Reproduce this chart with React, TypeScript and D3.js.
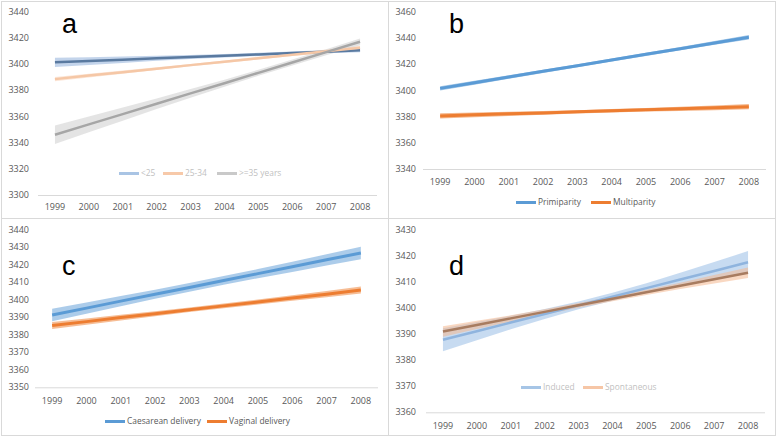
import React from 'react';
import * as d3 from 'd3';

const years = ['1999', '2000', '2001', '2002', '2003', '2004', '2005', '2006', '2007', '2008'];

// panel a: maternal age
const ageUnder25 = [3401.3, 3402.3, 3403.3, 3404.4, 3405.4, 3406.4, 3407.4, 3408.4, 3409.5, 3410.5];
const ageUnder25Half = [3.6, 3.0, 2.4, 1.9, 1.5, 1.3, 1.2, 1.2, 1.3, 1.5];
const age25to34 = [3388.5, 3391.2, 3393.8, 3396.5, 3399.2, 3401.8, 3404.5, 3407.2, 3409.8, 3412.5];
const age25to34Half = [1.6, 1.4, 1.2, 1.0, 0.9, 0.9, 1.0, 1.1, 1.3, 1.5];
const age35plus = [3346, 3353.9, 3361.8, 3369.7, 3377.6, 3385.4, 3393.3, 3401.2, 3409.1, 3417];
const age35plusHalf = [7.0, 6.0, 5.0, 4.1, 3.3, 2.7, 2.3, 2.2, 2.3, 2.6];

// panel b: parity
const primiparity = [3401.5, 3405.8, 3410.2, 3414.5, 3418.8, 3423.2, 3427.5, 3431.8, 3436.2, 3440.5];
const primiparityHalf = [1.7, 1.5, 1.3, 1.2, 1.1, 1.1, 1.2, 1.3, 1.5, 1.7];
const multiparity = [3380.5, 3381.3, 3382.1, 3382.8, 3383.6, 3384.4, 3385.2, 3385.9, 3386.7, 3387.5];
const multiparityHalf = [2.0, 1.8, 1.6, 1.4, 1.3, 1.3, 1.4, 1.6, 1.8, 2.0];

// panel c: mode of delivery
const caesarean = [3391.3, 3395.2, 3399.2, 3403.1, 3407.0, 3411.0, 3414.9, 3418.8, 3422.8, 3426.7];
const caesareanHalf = [3.6, 3.2, 2.9, 2.6, 2.5, 2.5, 2.6, 2.9, 3.2, 3.6];
const vaginal = [3385.3, 3387.5, 3389.8, 3392.0, 3394.3, 3396.5, 3398.7, 3401.0, 3403.2, 3405.5];
const vaginalHalf = [2.0, 1.8, 1.6, 1.4, 1.3, 1.3, 1.4, 1.6, 1.8, 2.0];

// panel d: onset of labour
const induced = [3387.8, 3391.1, 3394.4, 3397.7, 3401.0, 3404.3, 3407.6, 3410.9, 3414.2, 3417.5];
const inducedHalf = [4.4, 3.5, 2.6, 1.9, 1.5, 1.5, 1.9, 2.6, 3.4, 4.3];
const spontaneous = [3391, 3393.5, 3396, 3398.5, 3401, 3403.5, 3406, 3408.5, 3411, 3413.5];
const spontaneousHalf = [2.0, 1.6, 1.2, 1.0, 0.9, 0.9, 1.0, 1.2, 1.6, 2.0];

const ticksA = [3300, 3320, 3340, 3360, 3380, 3400, 3420, 3440];
const ticksB = [3340, 3360, 3380, 3400, 3420, 3440, 3460];
const ticksC = [3350, 3360, 3370, 3380, 3390, 3400, 3410, 3420, 3430, 3440];
const ticksD = [3360, 3370, 3380, 3390, 3400, 3410, 3420, 3430];

const FONT = "'Open Sans', sans-serif";

type Series = {
  name: string;
  values: number[];
  half: number[];
  line: string;
  band: string;
  bandOpacity: number;
  width: number;
  legendLine: string;
  legendX: number;
};

type Panel = {
  letter: string;
  px: number;
  py: number;
  x0: number;
  x1: number;
  yTop: number;
  yBot: number;
  ticks: number[];
  labelY: number;
  legendY: number;
  legendText: string;
  series: Series[];
};

const panels: Panel[] = [
  {
    letter: 'a', px: 1, py: 1, x0: 38, x1: 377, yTop: 11.7, yBot: 195, ticks: ticksA,
    labelY: 207, legendY: 173.5, legendText: '#bfbfbf',
    series: [
      { name: '<25', values: ageUnder25, half: ageUnder25Half, line: '#5a7aa0', band: '#a9c2e2', bandOpacity: 0.7, width: 2.5, legendLine: '#a9c4e4', legendX: 119 },
      { name: '25-34', values: age25to34, half: age25to34Half, line: '#f5c7a6', band: '#fbe0cd', bandOpacity: 0.8, width: 2.5, legendLine: '#f7c9a9', legendX: 163 },
      { name: '>=35 years', values: age35plus, half: age35plusHalf, line: '#a6a6a6', band: '#d9d9d9', bandOpacity: 0.7, width: 2.5, legendLine: '#c9c9c9', legendX: 217 },
    ],
  },
  {
    letter: 'b', px: 388, py: 1, x0: 423, x1: 766, yTop: 11.7, yBot: 169, ticks: ticksB,
    labelY: 182, legendY: 202.5, legendText: '#595959',
    series: [
      { name: 'Primiparity', values: primiparity, half: primiparityHalf, line: '#5b9bd5', band: '#9dc3e6', bandOpacity: 0.9, width: 3, legendLine: '#5b9bd5', legendX: 516 },
      { name: 'Multiparity', values: multiparity, half: multiparityHalf, line: '#ed7d31', band: '#f4b183', bandOpacity: 0.9, width: 3, legendLine: '#ed7d31', legendX: 591 },
    ],
  },
  {
    letter: 'c', px: 1, py: 218, x0: 35, x1: 378, yTop: 229.7, yBot: 387.3, ticks: ticksC,
    labelY: 401, legendY: 421.5, legendText: '#595959',
    series: [
      { name: 'Caesarean delivery', values: caesarean, half: caesareanHalf, line: '#5b9bd5', band: '#9dc3e6', bandOpacity: 0.85, width: 3, legendLine: '#5b9bd5', legendX: 105 },
      { name: 'Vaginal delivery', values: vaginal, half: vaginalHalf, line: '#ed7d31', band: '#f4b183', bandOpacity: 0.85, width: 3, legendLine: '#ed7d31', legendX: 207 },
    ],
  },
  {
    letter: 'd', px: 388, py: 218, x0: 426, x1: 765, yTop: 229.7, yBot: 412.3, ticks: ticksD,
    labelY: 426, legendY: 387.5, legendText: '#bfbfbf',
    series: [
      { name: 'Induced', values: induced, half: inducedHalf, line: '#8fb4de', band: '#b4cfec', bandOpacity: 0.75, width: 2.5, legendLine: '#a6c5e6', legendX: 521 },
      { name: 'Spontaneous', values: spontaneous, half: spontaneousHalf, line: '#a87c60', band: '#f4b88f', bandOpacity: 0.55, width: 2.5, legendLine: '#f6c6a6', legendX: 583 },
    ],
  },
];

function ChartPanel({ p }: { p: Panel }) {
  const x = d3.scaleBand<string>().domain(years).range([p.x0, p.x1]);
  const y = d3.scaleLinear()
    .domain([p.ticks[0], p.ticks[p.ticks.length - 1]])
    .range([p.yBot, p.yTop]);
  const cx = (i: number) => (x(years[i]) as number) + x.bandwidth() / 2;

  const lineGen = d3.line<number>().x((_, i) => cx(i)).y(d => y(d));

  return (
    <g>
      <rect x={p.px + 0.5} y={p.py + 0.5} width={387} height={217} fill="#fff" stroke="#d9d9d9" />
      {p.ticks.map(t => (
        <text key={t} x={p.px + 28} y={y(t)} dy="0.35em" textAnchor="end" fontSize={9} fill="#595959" fontFamily={FONT}>
          {t}
        </text>
      ))}
      <line x1={p.x0} x2={p.x1} y1={p.yBot + 0.5} y2={p.yBot + 0.5} stroke="#d9d9d9" />
      {years.map((yr, i) => (
        <text key={yr} x={cx(i)} y={p.labelY} dy="0.35em" textAnchor="middle" fontSize={9} fill="#595959" fontFamily={FONT}>
          {yr}
        </text>
      ))}
      {p.series.map(s => {
        const area = d3.area<number>()
          .x((_, i) => cx(i))
          .y0((d, i) => y(d - s.half[i]))
          .y1((d, i) => y(d + s.half[i]));
        return (
          <path key={s.name + '-band'} d={area(s.values) || ''} fill={s.band} opacity={s.bandOpacity} />
        );
      })}
      {p.series.map(s => (
        <path key={s.name + '-line'} d={lineGen(s.values) || ''} fill="none" stroke={s.line} strokeWidth={s.width} />
      ))}
      <text x={p.px + 61} y={p.py + (p.letter === 'c' || p.letter === 'd' ? 56.5 : 31.5)} fontSize={27} fill="#000" fontFamily="'Liberation Sans', Arial, sans-serif">
        {p.letter}
      </text>
      {p.series.map(s => (
        <g key={s.name + '-legend'}>
          <line x1={s.legendX} x2={s.legendX + 20} y1={p.legendY} y2={p.legendY} stroke={s.legendLine} strokeWidth={3} />
          <text x={s.legendX + 22} y={p.legendY} dy="0.35em" fontSize={8.4} fill={p.legendText} fontFamily={FONT}>
            {s.name}
          </text>
        </g>
      ))}
    </g>
  );
}

export default function App() {
  return (
    <svg width={778} height={439} style={{ position: 'absolute', left: 0, top: 0, background: '#fff' }}>
      <rect width={778} height={439} fill="#fff" />
      {panels.map(p => <ChartPanel key={p.letter} p={p} />)}
    </svg>
  );
}
